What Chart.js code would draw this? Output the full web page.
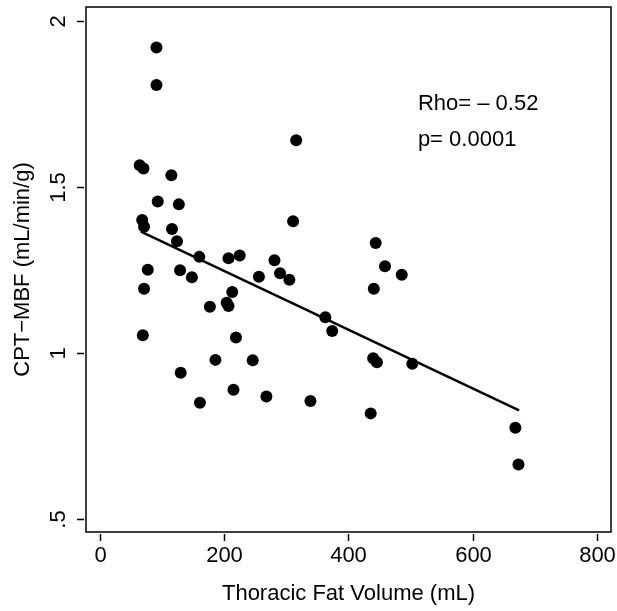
<!DOCTYPE html>
<html>
<head>
<meta charset="utf-8">
<script src="https://cdn.jsdelivr.net/npm/chart.js@4"></script>
<style>
  html, body { margin: 0; padding: 0; background: #fff; }
  #wrap { width: 617px; height: 611px; position: relative; }
</style>
</head>
<body>
<div id="wrap"><canvas id="chart_fat_mbf"></canvas></div>
<script>
// thoracic fat volume (mL) vs CPT-MBF (mL/min/g)
const fatVolume = [91, 91, 64, 70, 115, 93, 127, 68, 71, 116, 124, 311, 316, 160, 207, 225, 281, 77, 129, 148,
  256, 290, 305, 71, 213, 177, 204, 207, 363, 374, 69, 219, 186, 246, 130, 215, 268, 161, 339, 444,
  459, 486, 441, 440, 446, 503, 436, 669, 674];
const cptMbf = [1.919, 1.806, 1.565, 1.555, 1.535, 1.456, 1.447, 1.400, 1.380, 1.373, 1.336, 1.396, 1.640, 1.289, 1.285, 1.293, 1.279, 1.250, 1.249, 1.228,
  1.229, 1.240, 1.220, 1.193, 1.183, 1.139, 1.151, 1.141, 1.107, 1.066, 1.053, 1.046, 0.979, 0.978, 0.940, 0.889, 0.869, 0.850, 0.855, 1.331,
  1.261, 1.235, 1.193, 0.984, 0.972, 0.967, 0.818, 0.775, 0.664];

// fitted line end points
const fitX = [66, 675];
const fitY = [1.365, 0.827];

const xTicks = [0, 200, 400, 600, 800];
const yTicks = [0.5, 1, 1.5, 2];
const yTickLabels = [".5", "1", "1.5", "2"];
const statLines = ["Rho= \u2013 0.52", "p= 0.0001"];

let pointData = fatVolume.map((v, i) => ({ x: v, y: cptMbf[i] }));
let lineData = fitX.map((v, i) => ({ x: v, y: fitY[i] }));

const FONT = "22px 'Liberation Sans', Arial, Helvetica, sans-serif";

// draws the box, ticks, tick labels, axis titles and the stats text
const axesPlugin = {
  id: "rAxes",
  afterDraw(chart) {
    const ctx = chart.ctx;
    const area = chart.chartArea;
    const xs = chart.scales.x;
    const ys = chart.scales.y;
    ctx.save();
    ctx.strokeStyle = "#000";
    ctx.fillStyle = "#000";
    ctx.lineWidth = 1.5;
    ctx.strokeRect(area.left, area.top, area.right - area.left, area.bottom - area.top);

    ctx.font = FONT;
    // x ticks
    ctx.textAlign = "center";
    ctx.textBaseline = "middle";
    xTicks.forEach((t) => {
      let px = Math.round(xs.getPixelForValue(t)) + 0.5;
      ctx.beginPath();
      ctx.moveTo(px, area.bottom + 2);
      ctx.lineTo(px, area.bottom + 9);
      ctx.stroke();
      ctx.fillText(String(t), px, area.bottom + 24);
    });
    // y ticks (rotated labels)
    yTicks.forEach((t, i) => {
      let py = Math.round(ys.getPixelForValue(t)) + 0.5;
      ctx.beginPath();
      ctx.moveTo(area.left - 2, py);
      ctx.lineTo(area.left - 9, py);
      ctx.stroke();
      ctx.save();
      ctx.translate(area.left - 27, py);
      ctx.rotate(-Math.PI / 2);
      ctx.fillText(yTickLabels[i], 0, 0);
      ctx.restore();
    });

    // axis titles
    ctx.fillText("Thoracic Fat Volume (mL)", (area.left + area.right) / 2, area.bottom + 62);
    ctx.save();
    ctx.translate(23, (area.top + area.bottom) / 2);
    ctx.rotate(-Math.PI / 2);
    ctx.fillText("CPT\u2212MBF (mL/min/g)", 0, 0);
    ctx.restore();

    // stats
    ctx.textAlign = "left";
    let sx = xs.getPixelForValue(512);
    ctx.fillText(statLines[0], sx, ys.getPixelForValue(1.749));
    ctx.fillText(statLines[1], sx, ys.getPixelForValue(1.640));
    ctx.restore();
  },
};

var ctxFat = document.getElementById("chart_fat_mbf").getContext("2d");
var fatChart = new Chart(ctxFat, {
  type: "scatter",
  data: {
    datasets: [
      {
        label: "patients",
        data: pointData,
        backgroundColor: "#000",
        borderColor: "#000",
        borderWidth: 0,
        pointRadius: 6,
        pointHoverRadius: 6,
      },
      {
        type: "line",
        label: "fit",
        data: lineData,
        borderColor: "#000",
        borderWidth: 2.5,
        pointRadius: 0,
        fill: false,
        tension: 0,
      },
    ],
  },
  options: {
    animation: false,
    responsive: true,
    maintainAspectRatio: false,
    layout: {
      padding: { left: 86, top: 7, right: 6, bottom: 79 },
    },
    plugins: {
      legend: { display: false },
      tooltip: { enabled: false },
    },
    scales: {
      x: { type: "linear", min: -22.5, max: 823, display: false },
      y: { type: "linear", min: 0.461, max: 2.041, display: false },
    },
  },
  plugins: [axesPlugin],
});
</script>
</body>
</html>
